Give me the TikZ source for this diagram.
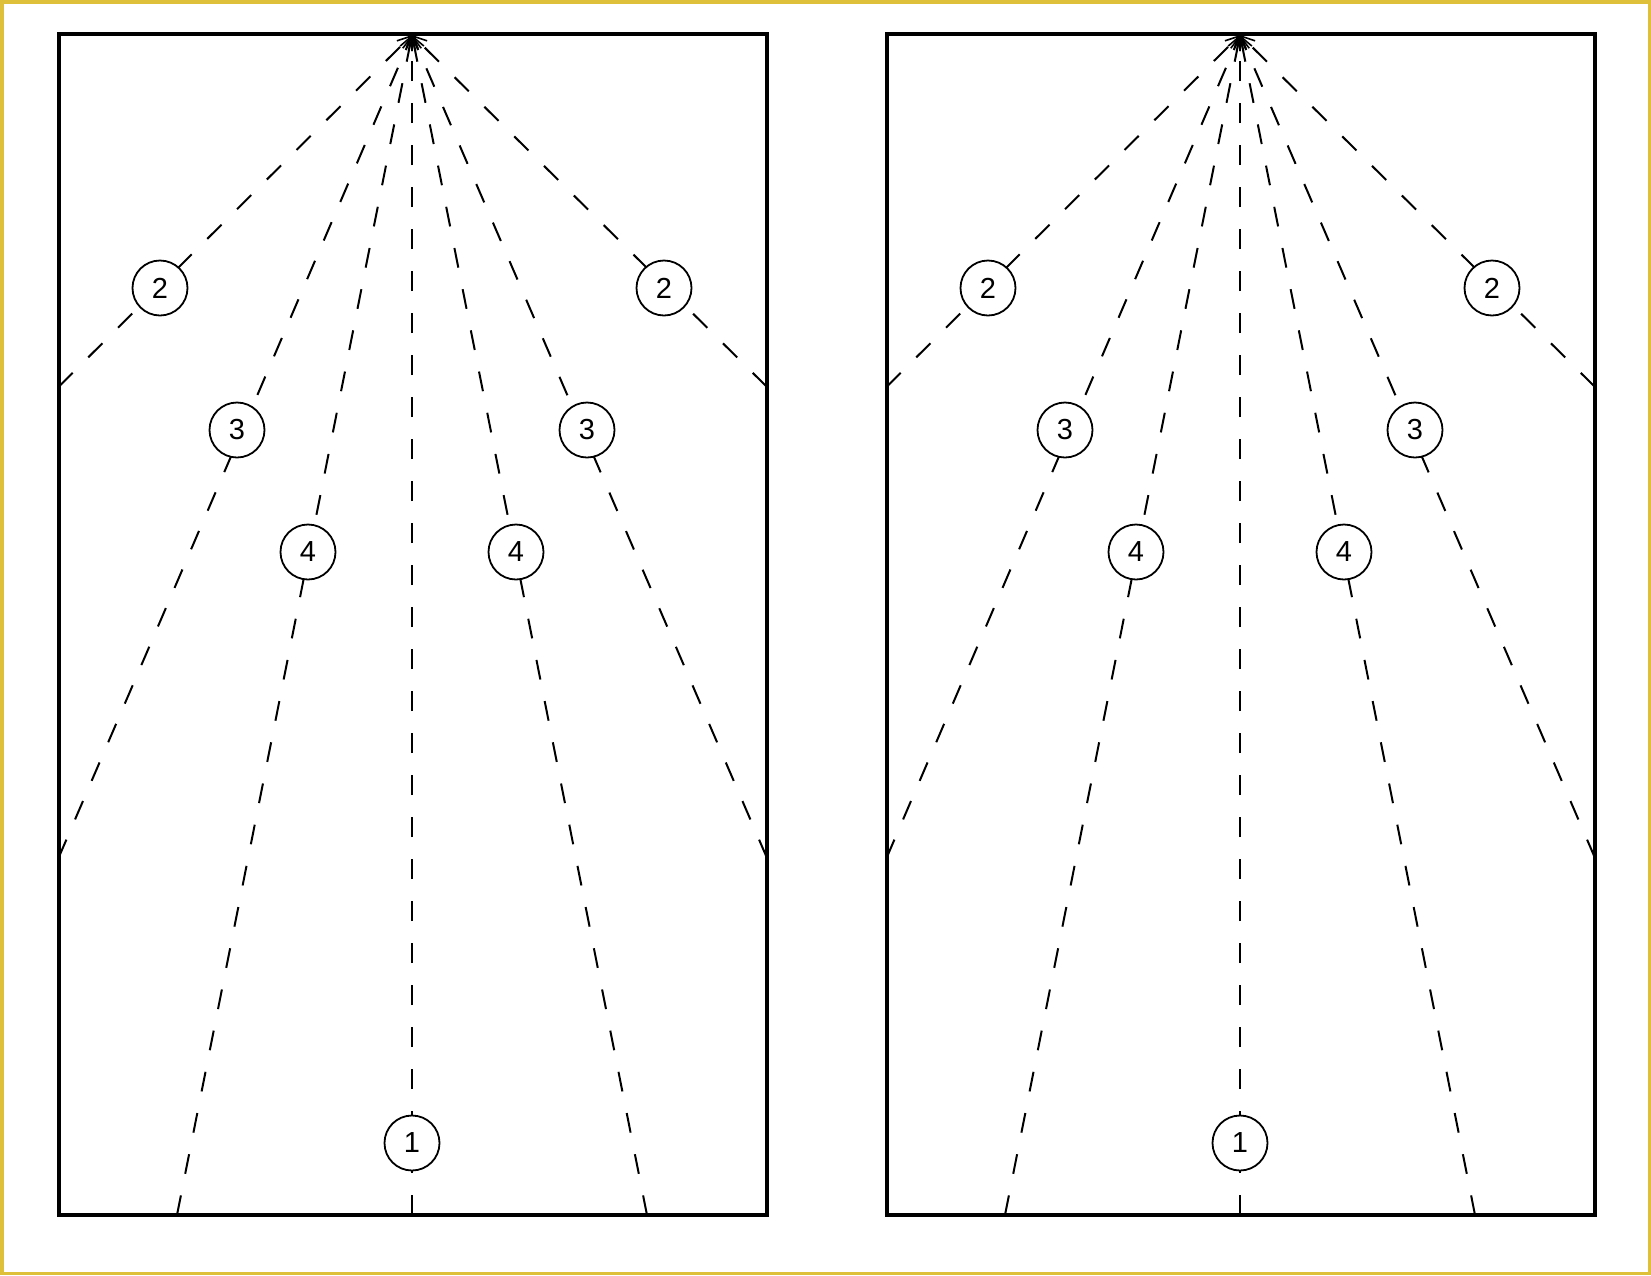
\documentclass[tikz,border=0pt]{standalone}
\usepackage{fontspec}
\setmainfont{Liberation Sans}
\usetikzlibrary{arrows.meta}
\definecolor{frameyellow}{RGB}{222,192,58}
\tikzset{
  panel/.style={draw=black, line width=4pt, outer sep=0pt, inner sep=0pt},
  ray/.style={draw=black, line width=2pt, dash pattern=on 20pt off 22pt,
    -{Straight Barb[length=13pt,width=13pt,line width=1.6pt]}},
  num/.style={circle, draw=black, fill=white, line width=1.8pt,
    minimum size=55pt, inner sep=0pt,
    font=\fontsize{29}{31}\selectfont},
}
\begin{document}
\begin{tikzpicture}[x=1pt,y=-1pt]
\useasboundingbox (0,0) rectangle (1651,1275);
\fill[white] (0,0) rectangle (1651,1275);
\draw[frameyellow, line width=3.5pt] (1.75,1.75) rectangle (1649.25,1273.25);
\foreach \p/\o in {a/0, b/828}{
  \begin{scope}[xshift=\o pt]
    \node[panel, minimum width=708.5pt, minimum height=1181.5pt, anchor=north west]
      (box\p) at (58.5,33.5) {};
    \coordinate (apex\p) at (412,35);
    \coordinate (e1\p) at (412,1215);
    \coordinate (e2l\p) at (58.5,387);
    \coordinate (e2r\p) at (767,387);
    \coordinate (e3l\p) at (58.5,858);
    \coordinate (e3r\p) at (767,858);
    \coordinate (e4l\p) at (177,1215);
    \coordinate (e4r\p) at (647,1215);
    \foreach \e in {e1,e2l,e2r,e3l,e3r,e4l,e4r}{
      \draw[ray] (\e\p) -- (apex\p);
    }
    \node[num] (n1\p) at (412,1143) {1};
    \node[num] (n2l\p) at (160,288) {2};
    \node[num] (n2r\p) at (664,288) {2};
    \node[num] (n3l\p) at (237,430) {3};
    \node[num] (n3r\p) at (587,430) {3};
    \node[num] (n4l\p) at (308,552) {4};
    \node[num] (n4r\p) at (516,552) {4};
  \end{scope}
}
\end{tikzpicture}
\end{document}
